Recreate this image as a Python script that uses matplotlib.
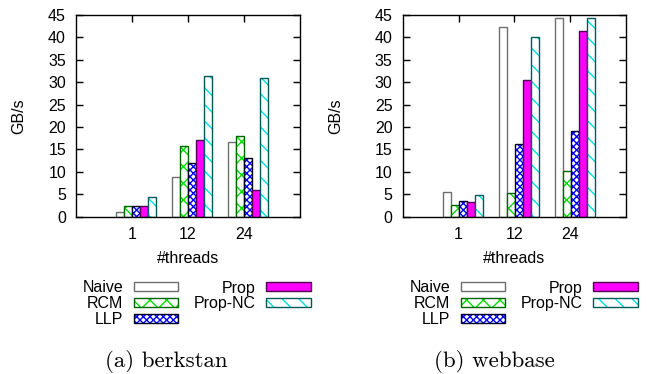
import matplotlib
matplotlib.use("Agg")
import matplotlib.pyplot as plt
import numpy as np

plt.rcParams['font.family'] = ['Liberation Sans', 'DejaVu Sans']
plt.rcParams['font.size'] = 11.5
plt.rcParams['hatch.linewidth'] = 1.0

# Data (GB/s)
threads = ['1', '12', '24']
series = ['Naive', 'RCM', 'LLP', 'Prop', 'Prop-NC']

berkstan_naive = [1.0, 8.8, 16.7]
berkstan_rcm = [2.4, 15.8, 18.1]
berkstan_llp = [2.3, 12.0, 13.0]
berkstan_prop = [2.4, 17.2, 5.9]
berkstan_propnc = [4.5, 31.4, 31.0]

webbase_naive = [5.6, 42.4, 44.3]
webbase_rcm = [2.7, 5.2, 10.2]
webbase_llp = [3.4, 16.2, 19.2]
webbase_prop = [3.2, 30.4, 41.5]
webbase_propnc = [4.8, 40.2, 44.3]

# face colour, hatch, hatch colour, border colour
styles = [
    ('white', '', 'white', '#6e6e6e'),
    ('white', 'xx', '#00e000', '#006400'),
    ('white', 'xxxxx', '#0000ff', '#000020'),
    ('#ff00ff', '', '#ff00ff', '#500050'),
    ('white', '\\\\', '#00e0e0', '#005a5a'),
]

W, H = 647, 374
fig = plt.figure(figsize=(W / 100, H / 100), dpi=100)

panels = [
    (76, [berkstan_naive, berkstan_rcm, berkstan_llp, berkstan_prop, berkstan_propnc],
     '(a) berkstan', 310.7, 166.7, 26),
    (402.7, [webbase_naive, webbase_rcm, webbase_llp, webbase_prop, webbase_propnc],
     '(b) webbase', 637.7, 494.2, 343.5),
]

w = 1 / 7
x = np.arange(len(threads))
for left, data, caption, leg_right, cap_x, ylab_x in panels:
    ax = fig.add_axes([left / W, 1 - 216.7 / H, 223.5 / W, 201.7 / H])
    handles = []
    for i, (vals, (fc, hatch, hc, ec)) in enumerate(zip(data, styles)):
        pos = x + (i - 2) * w + 0.08
        b1 = ax.bar(pos, vals, w, facecolor=fc, hatch=hatch, edgecolor=hc, linewidth=0)
        b2 = ax.bar(pos, vals, w, fill=False, edgecolor=ec, linewidth=1.0)
        handles.append((b1, b2))
    ax.set_xlim(-1, 3)
    ax.set_ylim(0, 45)
    ax.set_yticks(range(0, 46, 5))
    ax.set_xticks(x)
    ax.set_xticklabels(threads)
    ax.tick_params(direction='in', top=True, right=True, length=5, width=1)
    ax.tick_params(axis='y', pad=7.2)
    ax.tick_params(axis='x', pad=7.5, bottom=False)
    for s in ax.spines.values():
        s.set_linewidth(1.0)
    ax.set_ylabel('GB/s')
    ax.yaxis.set_label_coords((ylab_x - left) / 223.5, 0.5)
    ax.set_xlabel('#threads')
    ax.xaxis.set_label_coords(0.5, -(251 - 216.7) / 201.7)

    ax.legend(handles, series, ncol=2, loc='upper right',
              bbox_to_anchor=(leg_right / W, 1 - 280.5 / H), bbox_transform=fig.transFigure,
              frameon=False, markerfirst=False, borderpad=0, borderaxespad=0,
              handlelength=2.8, handleheight=0.48, handletextpad=0.66,
              columnspacing=0.94, labelspacing=0.05)

    fig.text(cap_x / W, 1 - 361.7 / H, caption, ha='center', va='center',
             family='cmr10', size=16.5)

fig.savefig('out.png', dpi=100)
